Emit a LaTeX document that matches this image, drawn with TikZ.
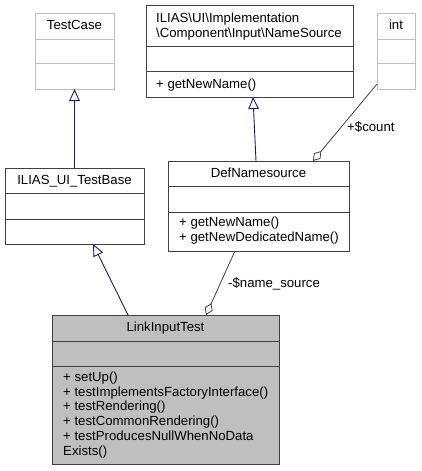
\documentclass[tikz,border=0pt]{standalone}
\usepackage{fontspec}
\setmainfont{Liberation Sans}
\usetikzlibrary{arrows.meta}
\definecolor{navyedge}{HTML}{191970}
\definecolor{grayedge}{HTML}{404040}
\definecolor{lightborder}{HTML}{BFBFBF}
\definecolor{boxfill}{HTML}{BFBFBF}
\tikzset{
  umlbox/.style={draw=black!75, line width=1pt, inner sep=0pt, outer sep=0pt, anchor=north west},
  extbox/.style={draw=lightborder, line width=1pt, inner sep=0pt, outer sep=0pt, anchor=north west},
  divline/.style={draw=black!75, line width=1pt},
  extdiv/.style={draw=lightborder, line width=1pt},
  txt/.style={inner sep=0pt, anchor=base, font=\fontsize{13.2}{14.7}\selectfont},
  txtl/.style={inner sep=0pt, anchor=base west, font=\fontsize{13.2}{14.7}\selectfont, align=left},
  inherit/.style={draw=navyedge, line width=0.9pt, -{Triangle[open, length=12pt, width=10.5pt, line width=0.9pt]}},
  aggr/.style={draw=grayedge, line width=0.8pt, -{Diamond[open, length=13pt, width=8.5pt, line width=0.8pt]}}
}
\begin{document}
\begin{tikzpicture}[x=1pt,y=-1pt]
\useasboundingbox (0,0) rectangle (421,471);

% TestCase
\node[extbox, minimum width=79pt, minimum height=76pt] (tc) at (35,13) {};
\draw[extdiv] (35,39) -- (114,39);
\draw[extdiv] (35,63) -- (114,63);
\node[txt] (tct) at (74.5,29) {TestCase};

% NameSource
\node[umlbox, minimum width=207pt, minimum height=92pt] (ns) at (146,5) {};
\draw[divline] (146,46) -- (353,46);
\draw[divline] (146,71) -- (353,71);
\node[txtl] (nst1) at (156,22) {ILIAS\textbackslash UI\textbackslash Implementation};
\node[txtl] (nst2) at (156,37) {\textbackslash Component\textbackslash Input\textbackslash NameSource};
\node[txtl] (nsm) at (156,88) {+ getNewName()};

% int
\node[extbox, minimum width=38pt, minimum height=76pt] (int) at (377,13) {};
\draw[extdiv] (377,39) -- (415,39);
\draw[extdiv] (377,63) -- (415,63);
\node[txt] (intt) at (396,29) {int};

% ILIAS_UI_TestBase
\node[umlbox, minimum width=139pt, minimum height=76pt] (tb) at (5,168) {};
\draw[divline] (5,193) -- (144,193);
\draw[divline] (5,219) -- (144,219);
\node[txt] (tbt) at (74.5,184) {ILIAS\_UI\_TestBase};

% DefNamesource
\node[umlbox, minimum width=181pt, minimum height=90pt] (ds) at (168,161) {};
\draw[divline] (168,186) -- (349,186);
\draw[divline] (168,212) -- (349,212);
\node[txt] (dst) at (258.5,177.5) {DefNamesource};
\node[txtl] (dsm1) at (179,226) {+ getNewName()};
\node[txtl] (dsm2) at (179,241) {+ getNewDedicatedName()};

% LinkInputTest
\node[umlbox, fill=boxfill, minimum width=227pt, minimum height=149pt] (lt) at (52,315) {};
\draw[divline] (52,341) -- (279,341);
\draw[divline] (52,366) -- (279,366);
\node[txt] (ltt) at (165.5,331) {LinkInputTest};
\node[txtl] (ltm1) at (63,381.5) {+ setUp()};
\node[txtl] (ltm2) at (63,396.2) {+ testImplementsFactoryInterface()};
\node[txtl] (ltm3) at (63,410.9) {+ testRendering()};
\node[txtl] (ltm4) at (63,425.6) {+ testCommonRendering()};
\node[txtl] (ltm5) at (63,440.3) {+ testProducesNullWhenNoData};
\node[txtl] (ltm6) at (63,455) {Exists()};

% connectors
\draw[inherit] (tb.north) -- (tc.south);
\draw[inherit] ([xshift=-2.5pt]ds.north) -- ([xshift=3.5pt]ns.south);
\draw[inherit] ([xshift=-37.5pt]lt.north) -- ([xshift=18.5pt]tb.south);
\draw[aggr] ([yshift=5pt]int.south west) -- ([xshift=54.5pt]ds.north);
\draw[aggr] ([xshift=-23.5pt]ds.south) -- ([xshift=40.5pt]lt.north);

\node[txtl] (lbl1) at (347,131) {+\$count};
\node[txtl] (lbl2) at (228,287) {-\$name\_source};
\end{tikzpicture}
\end{document}
